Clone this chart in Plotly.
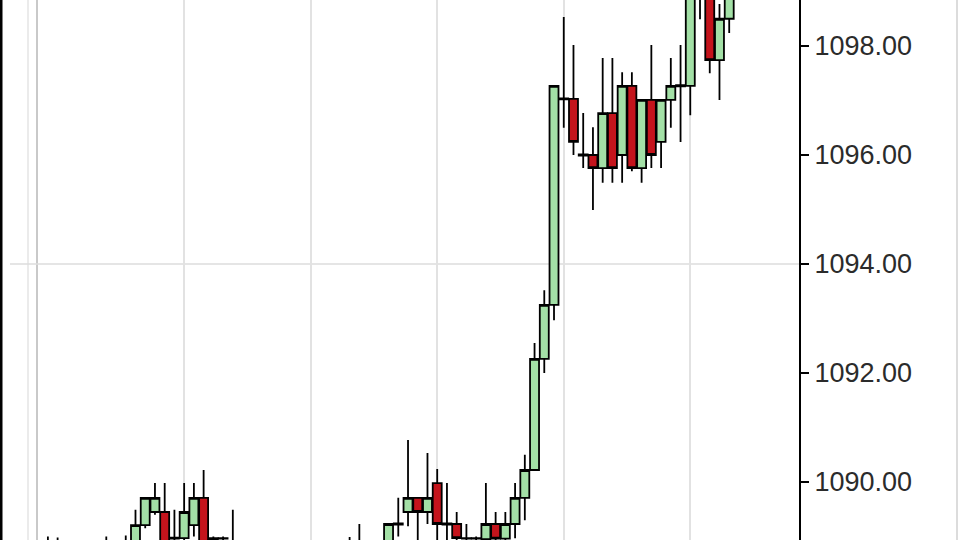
import plotly.graph_objects as go

# bar index along the time axis
bars = list(range(71))

opens = [1088.70, 1088.80, 1088.65, 1088.60, 1088.70, 1088.55, 1088.75, 1088.70, 1088.80, 1088.75,
         1089.21, 1089.45, 1089.45, 1088.96, 1088.97, 1089.21, 1089.71, 1088.80, 1088.97, 1088.80,
         1088.70, 1088.50, 1088.60, 1088.45, 1088.40, 1088.55, 1088.50, 1088.60, 1088.55, 1088.65,
         1088.60, 1088.70, 1088.80, 1088.75, 1088.80, 1088.85, 1089.22, 1089.45, 1089.71, 1089.45,
         1089.98, 1089.22, 1089.23, 1088.96, 1088.97, 1088.95, 1089.23, 1088.96, 1089.23, 1089.71,
         1090.22, 1092.26, 1093.25, 1097.02, 1097.03, 1095.99, 1096.00, 1095.76, 1096.77, 1096.00,
         1097.27, 1095.76, 1097.01, 1096.24, 1097.01, 1097.26, 1097.27, 1099.00, 1099.20, 1097.74,
         1098.50]
highs = [1089.00, 1088.98, 1088.85, 1088.80, 1088.88, 1088.82, 1089.00, 1088.92, 1089.02, 1089.49,
         1089.72, 1089.98, 1089.98, 1089.49, 1089.98, 1089.98, 1090.22, 1089.00, 1089.00, 1089.49,
         1088.88, 1088.75, 1088.80, 1088.70, 1088.65, 1088.80, 1088.72, 1088.85, 1088.78, 1088.88,
         1088.85, 1088.99, 1089.23, 1088.90, 1088.92, 1089.23, 1089.71, 1090.77, 1089.72, 1090.53,
         1090.24, 1089.98, 1089.45, 1089.23, 1089.00, 1089.98, 1089.45, 1089.45, 1089.98, 1090.50,
         1092.55, 1093.52, 1097.28, 1098.53, 1098.02, 1096.77, 1096.51, 1097.78, 1097.78, 1097.52,
         1097.52, 1097.02, 1098.02, 1097.02, 1097.78, 1098.02, 1099.20, 1099.40, 1099.40, 1098.77,
         1099.20]
lows = [1088.50, 1088.55, 1088.45, 1088.40, 1088.50, 1088.40, 1088.55, 1088.50, 1088.60, 1088.60,
        1089.15, 1089.40, 1088.60, 1088.60, 1088.70, 1089.00, 1088.60, 1088.60, 1088.65, 1088.55,
        1088.40, 1088.30, 1088.35, 1088.20, 1088.15, 1088.30, 1088.25, 1088.40, 1088.35, 1088.45,
        1088.40, 1088.50, 1088.60, 1088.55, 1088.60, 1088.70, 1089.00, 1089.19, 1088.70, 1089.23,
        1088.70, 1088.70, 1088.80, 1088.70, 1088.70, 1088.80, 1088.80, 1088.85, 1088.97, 1089.30,
        1090.22, 1092.00, 1092.97, 1096.50, 1096.00, 1095.76, 1094.99, 1095.49, 1095.49, 1095.49,
        1095.70, 1095.49, 1095.76, 1095.76, 1096.50, 1096.24, 1096.73, 1098.49, 1097.50, 1097.01,
        1098.24]
closes = [1088.80, 1088.65, 1088.60, 1088.70, 1088.55, 1088.75, 1088.70, 1088.80, 1088.75, 1089.21,
          1089.71, 1089.71, 1088.80, 1088.98, 1089.45, 1089.71, 1088.80, 1088.97, 1088.96, 1088.70,
          1088.50, 1088.60, 1088.45, 1088.40, 1088.55, 1088.50, 1088.60, 1088.55, 1088.65, 1088.60,
          1088.70, 1088.80, 1088.75, 1088.80, 1088.85, 1089.23, 1089.24, 1089.71, 1089.45, 1089.71,
          1089.23, 1089.24, 1088.97, 1088.97, 1088.96, 1089.23, 1088.96, 1089.23, 1089.71, 1090.22,
          1092.26, 1093.25, 1097.27, 1097.04, 1096.24, 1096.01, 1095.76, 1096.77, 1095.76, 1097.27,
          1095.76, 1097.01, 1096.00, 1097.01, 1097.27, 1097.28, 1099.10, 1099.30, 1097.74, 1098.50,
          1099.00]

grid_bars = [14, 27, 40, 53, 66]
price_ticks = [1090, 1092, 1094, 1096, 1098]
price_labels = ["1090.00", "1092.00", "1094.00", "1096.00", "1098.00"]

fig = go.Figure()
fig.add_trace(go.Candlestick(
    x=bars, open=opens, high=highs, low=lows, close=closes,
    increasing=dict(line=dict(color="black", width=1.8), fillcolor="#a3e0a6"),
    decreasing=dict(line=dict(color="black", width=1.8), fillcolor="#c4141c"),
    whiskerwidth=0, showlegend=False, hoverinfo="skip",
))

# frame lines at the left and right edges, and the 1094 level line
shapes = [
    dict(type="line", xref="paper", yref="paper", x0=1 / 799, x1=1 / 799, y0=0, y1=1,
         line=dict(color="black", width=3)),
    dict(type="line", xref="paper", yref="paper", x0=28 / 799, x1=28 / 799, y0=0, y1=1,
         line=dict(color="#e4e4e4", width=1.5), layer="below"),
    dict(type="line", xref="paper", yref="paper", x0=37 / 799, x1=37 / 799, y0=0, y1=1,
         line=dict(color="#c9c9c9", width=2), layer="below"),
    dict(type="line", xref="paper", yref="y", x0=10 / 799, x1=1, y0=1094, y1=1094,
         line=dict(color="#dddddd", width=1.5), layer="below"),
    dict(type="line", xref="paper", yref="paper", x0=957 / 799, x1=957 / 799, y0=0, y1=1,
         line=dict(color="#d0d0d0", width=1.5)),
]

fig.update_layout(
    width=960, height=540,
    margin=dict(l=0, r=161, t=0, b=0),
    paper_bgcolor="white", plot_bgcolor="white",
    boxgap=0.04, boxgroupgap=0.04,
    shapes=shapes,
    font=dict(family="Liberation Sans, Arial, sans-serif", size=27, color="#2b2b2b"),
    xaxis=dict(
        range=[-4.92, 77.17], rangeslider=dict(visible=False),
        tickvals=grid_bars, showticklabels=False, ticks="",
        showgrid=True, gridcolor="#e2e2e2", gridwidth=1.5,
        zeroline=False, showline=False, fixedrange=True,
    ),
    yaxis=dict(
        side="right", range=[1088.936, 1098.844],
        tickvals=price_ticks, ticktext=price_labels,
        ticks="outside", ticklen=8, tickwidth=1.5, tickcolor="black",
        showline=True, linecolor="black", linewidth=2,
        showgrid=False, zeroline=False, ticklabelstandoff=0,
    ),
)

fig.write_html("out.html", config={"displayModeBar": False},
               post_script="document.body.style.margin = '0px';")
